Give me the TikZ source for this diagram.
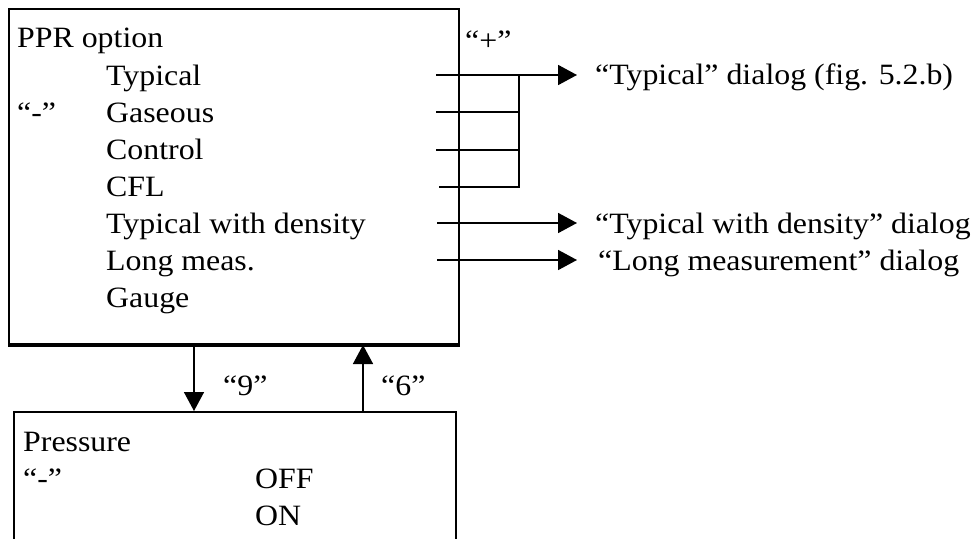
\documentclass[tikz,border=0pt]{standalone}
\usepackage{fontspec}
\setmainfont{Liberation Serif}[FakeStretch=1.08]
\usetikzlibrary{arrows.meta}

\begin{document}
\begin{tikzpicture}[x=1pt,y=-1pt,
  txt/.style={anchor=base west, inner sep=0pt, font=\fontsize{29.5}{35}\selectfont},
  box/.style={draw, line width=2pt, anchor=north west, inner sep=0pt},
  wire/.style={line width=1.8pt},
  arr/.style={wire, -{Triangle[length=19pt,width=20pt]}}]
\clip (0,0) rectangle (979,538);

% PPR option menu
\node[box, minimum width=450pt, minimum height=335pt] (ppr) at (8,8) {};
\draw[line width=3pt] (ppr.south west) -- (ppr.south east);
\node[txt] (title) at (17,47) {PPR option};
\node[txt] (typ) at (106,85)  {Typical};
\node[txt] (gas) at (106,122) {Gaseous};
\node[txt] (ctl) at (106,159) {Control};
\node[txt] (cfl) at (106,196) {CFL};
\node[txt] (twd) at (106,233) {Typical with density};
\node[txt] (lng) at (106,270) {Long meas.};
\node[txt] (gau) at (106,307) {Gauge};
\node[txt] (minus) at (17,122) {“-”};
\node[txt] (plus) at (465,50) {“+”};

% target dialogs
\node[txt] (dlgA) at (595,84)  {“Typical” dialog (fig. 5.2.b)};
\node[txt] (dlgB) at (595,233) {“Typical with density” dialog};
\node[txt] (dlgC) at (598,270) {“Long measurement” dialog};

% row connectors
\coordinate (r1) at (436,75);
\coordinate (r2) at (436,112);
\coordinate (r3) at (436,150);
\coordinate (r4) at (439,187);
\coordinate (r5) at (437,223);
\coordinate (r6) at (437,260);
\coordinate (j)  at (519,75);
\draw[arr, shorten >=18pt] (r1) -- (r1 -| dlgA.west);
\draw[wire] (r2) -- (r2 -| j);
\draw[wire] (r3) -- (r3 -| j);
\draw[wire] (r4) -- (r4 -| j) -- (j);
\draw[arr, shorten >=18pt] (r5) -- (r5 -| dlgB.west);
\draw[arr, shorten >=21pt] (r6) -- (r6 -| dlgC.west);

% Pressure menu
\node[box, minimum width=442pt, minimum height=200pt] (pres) at (13,411) {};
\node[txt] (ptitle) at (23,451) {Pressure};
\node[txt] (pminus) at (23,488) {“-”};
\node[txt] (off) at (255,488) {OFF};
\node[txt] (on)  at (255,525) {ON};

% key transitions between the menus
\coordinate (k9) at (194,343);
\coordinate (k6) at (363,343);
\draw[arr, line width=1.5pt] (ppr.south -| k9) -- (pres.north -| k9);
\draw[arr, line width=1.5pt] (pres.north -| k6) -- (ppr.south -| k6);
\node[txt] (l9) at (223,395) {“9”};
\node[txt] (l6) at (381,395) {“6”};
\end{tikzpicture}
\end{document}
